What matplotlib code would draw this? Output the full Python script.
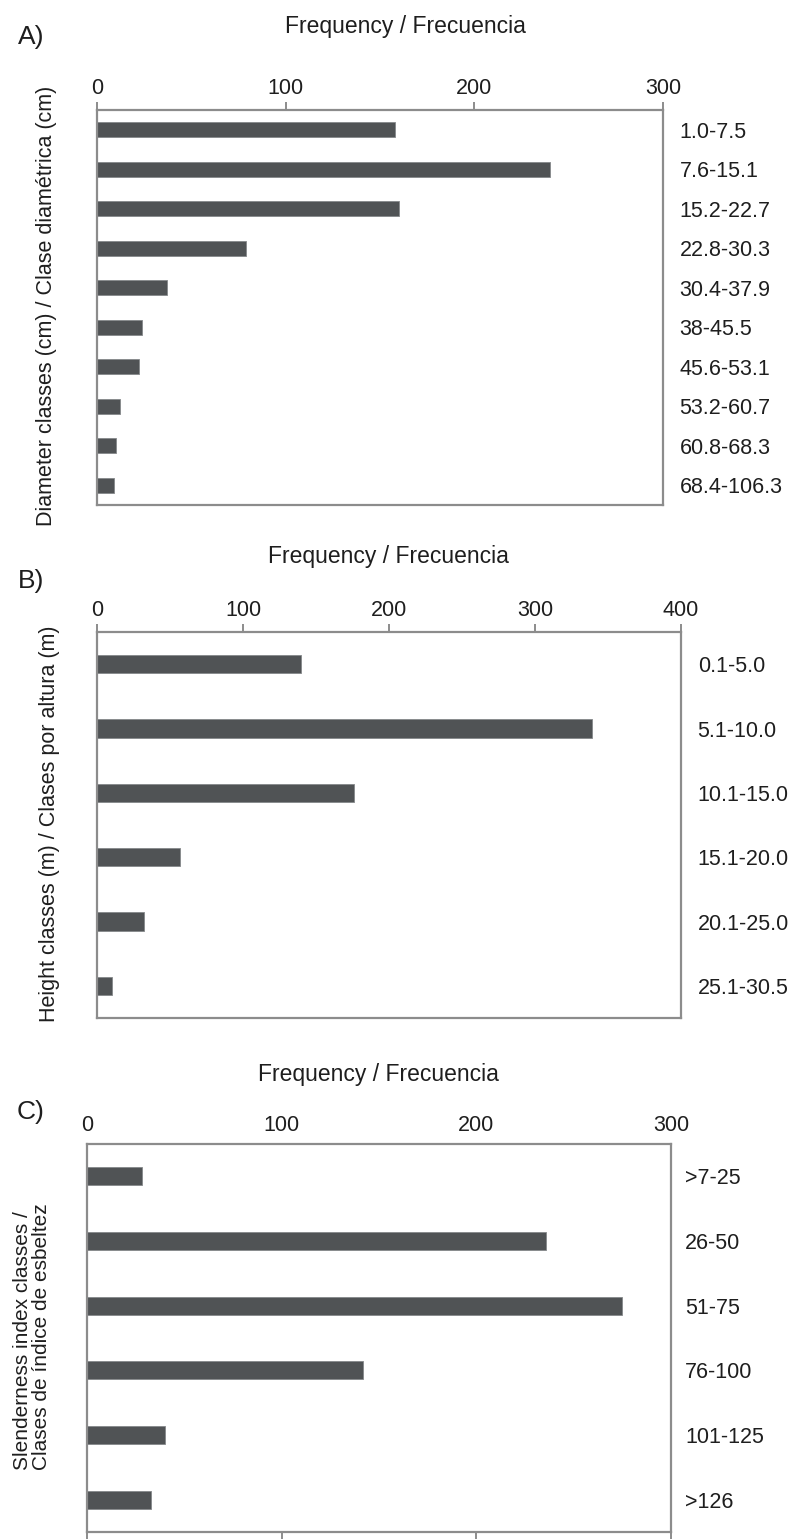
import matplotlib
matplotlib.use("Agg")
import matplotlib.pyplot as plt

# data
diam_classes = ['1.0-7.5', '7.6-15.1', '15.2-22.7', '22.8-30.3', '30.4-37.9',
                '38-45.5', '45.6-53.1', '53.2-60.7', '60.8-68.3', '68.4-106.3']
diam_freq = [158, 240, 160, 79, 37, 24, 22, 12, 10, 9]

height_classes = ['0.1-5.0', '5.1-10.0', '10.1-15.0', '15.1-20.0', '20.1-25.0', '25.1-30.5']
height_freq = [140, 339, 176, 57, 32, 10]

slender_classes = ['>7-25', '26-50', '51-75', '76-100', '101-125', '>126']
slender_freq = [28, 236, 275, 142, 40, 33]

W, H = 793, 1539
FONT = ['Liberation Sans', 'DejaVu Sans']
BAR = '#505355'
FRAME = '#8c8c8c'
TXT = '#1e1e1e'
TICK_FS = 15.5

plt.rcParams['font.family'] = FONT
fig = plt.figure(figsize=(W / 100, H / 100), dpi=100)


def rect(l, t, r, b):
    return [l / W, 1 - b / H, (r - l) / W, (b - t) / H]


def panel(box, cats, vals, xmax, bar_h, lab_pad, top_ticks=True):
    ax = fig.add_axes(rect(*box))
    y = list(range(len(cats)))
    ax.barh(y, vals, height=bar_h, color=BAR, edgecolor='#85888a', linewidth=0.6)
    ax.set_xlim(0, xmax)
    ax.set_ylim(len(cats) - 0.5, -0.5)
    ax.set_xticks(range(0, xmax + 1, 100))
    ax.set_yticks(y, cats)
    for s in ax.spines.values():
        s.set_color(FRAME)
        s.set_linewidth(1.6)
    ax.xaxis.set_ticks_position('top')
    if top_ticks:
        ax.tick_params(axis='x', direction='out', length=6, width=1.4, color=FRAME, pad=2)
    else:
        ax.tick_params(axis='x', length=0, pad=6)
        sec = ax.secondary_xaxis('bottom')
        sec.set_xticks(range(0, xmax + 1, 100), labels=[])
        sec.tick_params(direction='out', length=8, width=1.4, color=FRAME)
        sec.spines['bottom'].set_visible(False)
    ax.yaxis.set_ticks_position('right')
    ax.tick_params(axis='y', length=0, pad=lab_pad)
    ax.tick_params(labelsize=TICK_FS, labelcolor=TXT)
    return ax


def px(x, y):
    return x / W, 1 - y / H


# A) diameter classes
panel((97, 110, 663, 505), diam_classes, diam_freq, 300, 0.38, 12)
fig.text(*px(405, 27), 'Frequency / Frecuencia', ha='center', va='center',
         fontsize=16.5, color=TXT)
fig.text(*px(31, 37), 'A)', ha='center', va='center', fontsize=19, color=TXT)
fig.text(*px(47, 306), 'Diameter classes (cm) / Clase diamétrica (cm)', rotation=90,
         ha='center', va='center', fontsize=15.5, color=TXT)

# B) height classes
panel((97, 632, 681, 1018), height_classes, height_freq, 400, 0.28, 12)
fig.text(*px(388, 557), 'Frequency / Frecuencia', ha='center', va='center',
         fontsize=16.5, color=TXT)
fig.text(*px(31, 581), 'B)', ha='center', va='center', fontsize=19, color=TXT)
fig.text(*px(50, 824), 'Height classes (m) / Clases por altura (m)', rotation=90,
         ha='center', va='center', fontsize=15.5, color=TXT)

# C) slenderness index classes
panel((87, 1144, 671, 1532), slender_classes, slender_freq, 300, 0.28, 10, top_ticks=False)
fig.text(*px(378, 1075), 'Frequency / Frecuencia', ha='center', va='center',
         fontsize=16.5, color=TXT)
fig.text(*px(31, 1112), 'C)', ha='center', va='center', fontsize=19, color=TXT)
fig.text(*px(32, 1470), 'Slenderness index classes /\nClases de índice de esbeltez', rotation=90,
         ha='center', va='bottom', multialignment='left', linespacing=1.05,
         fontsize=15, color=TXT)

fig.savefig('out.png', dpi=100)
